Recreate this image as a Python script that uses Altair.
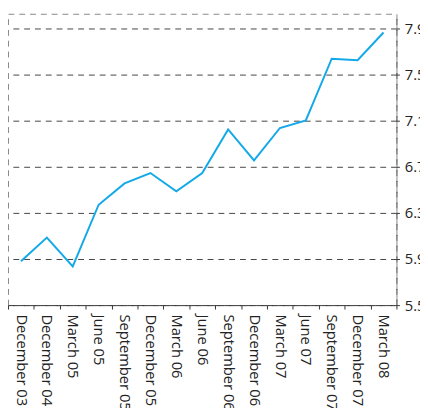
import altair as alt
import pandas as pd

months = ["December 03", "December 04", "March 05", "June 05", "September 05",
          "December 05", "March 06", "June 06", "September 06", "December 06",
          "March 07", "June 07", "September 07", "December 07", "March 08"]
values = [5.88, 6.085, 5.835, 6.37, 6.555, 6.645, 6.487, 6.645, 7.023, 6.754,
          7.035, 7.10, 7.636, 7.623, 7.863]
y_ticks = [5.5, 5.9, 6.3, 6.7, 7.1, 7.5, 7.9]

df = pd.DataFrame({"month": months, "value": values})

FONT = "Open Sans"
DASH = [6, 5]

chart = alt.Chart(df).mark_line(color="#13a9e9", strokeWidth=2).encode(
    x=alt.X("month:N", sort=months,
            scale=alt.Scale(type="band", paddingInner=0, paddingOuter=0),
            bandPosition=0.5,
            axis=alt.Axis(title=None, labelAngle=90, tickBand="extent",
                          tickSize=4, tickColor="#333", domainColor="#333",
                          domainDash=DASH, labelPadding=5, labelFontSize=15,
                          labelFont=FONT, labelColor="#222", grid=False)),
    y=alt.Y("value:Q",
            scale=alt.Scale(domain=[5.5, 8.025], nice=False, zero=False),
            axis=alt.Axis(title=None, orient="right", values=y_ticks, format=".1f",
                          grid=True, gridColor="#444", gridDash=DASH,
                          domainColor="#333", domainDash=DASH,
                          tickSize=3, tickColor="#333", labelPadding=5,
                          labelFontSize=15, labelFont=FONT, labelColor="#222")),
).properties(
    width=396, height=297,
    autosize=alt.AutoSizeParams(type="none"),
    padding={"left": 0, "top": 2, "right": 24, "bottom": 101},
).configure_view(stroke="#888", strokeDash=DASH)

chart.save("out.html", embed_options={"renderer": "svg", "actions": False})
